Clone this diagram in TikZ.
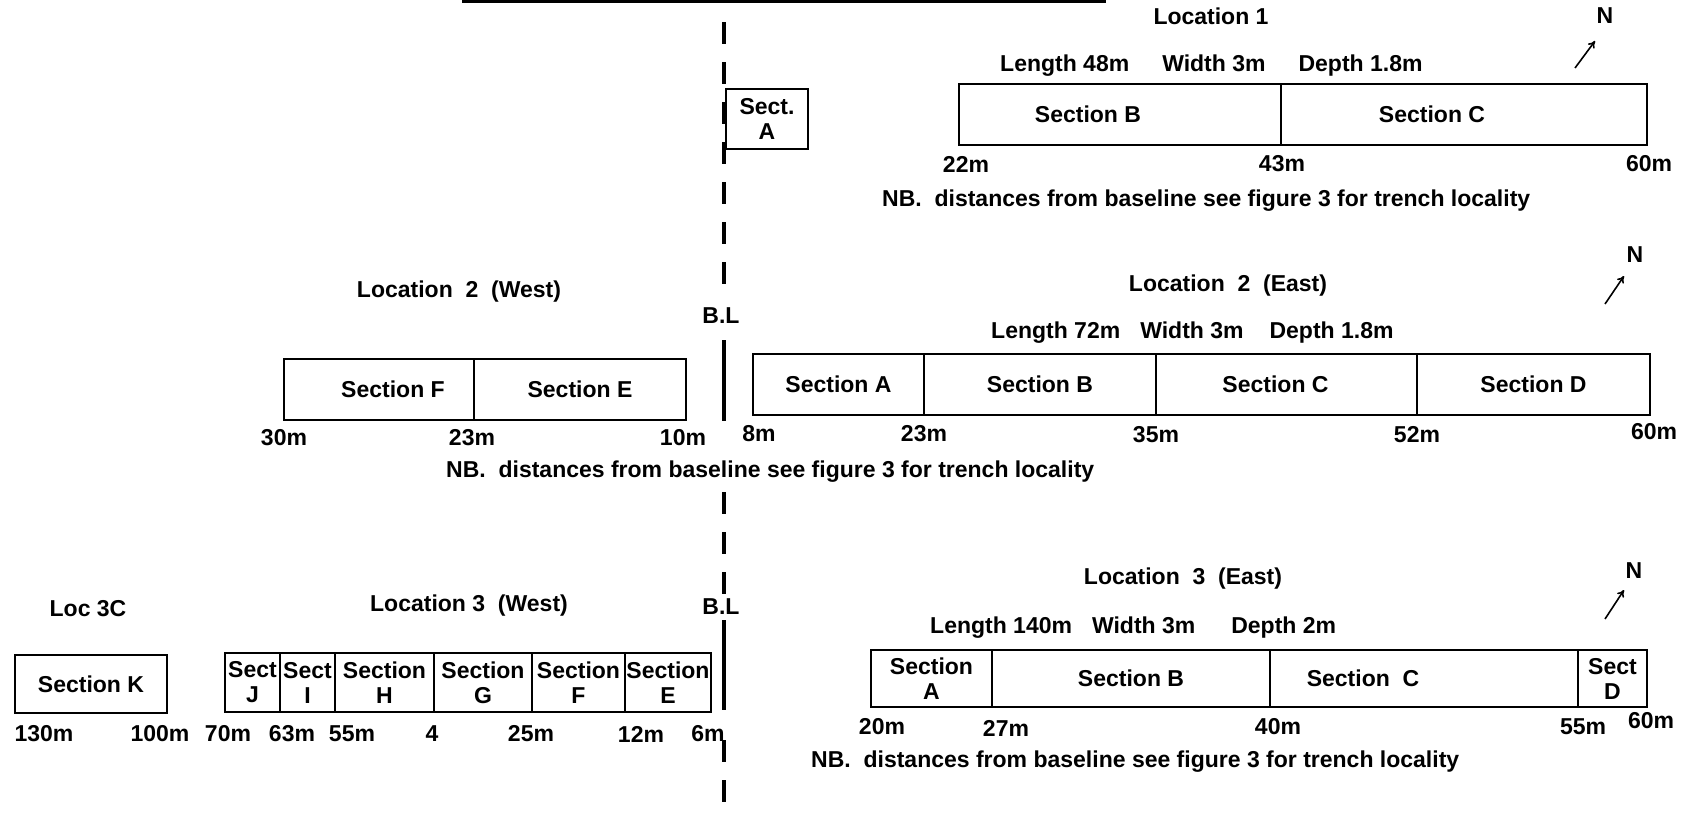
\documentclass[tikz,border=0pt]{standalone}
\usepackage{fontspec}
\setmainfont{Liberation Sans}
\usetikzlibrary{arrows.meta}
\begin{document}
\begin{tikzpicture}[x=1pt,y=-1pt,
  font=\fontsize{23}{25}\selectfont\bfseries,
  cell/.style={draw, line width=2pt, inner sep=0pt, anchor=north west, align=center},
  lbl/.style={inner sep=0pt},
  nbtxt/.style={inner sep=0pt, anchor=west},
  baseln/.style={line width=4pt},
  dashedbl/.style={baseln, dash pattern=on 22pt off 18pt},
  northarrow/.style={line width=1.6pt, -{To[length=7pt,width=8pt]}}]
\useasboundingbox (0,0) rectangle (1692,814);

% top cut line
\coordinate (tl1) at (462,1);
\coordinate (tl2) at (1106,1);
\draw[line width=3pt] (tl1) -- (tl2);

% ---------------- baseline ----------------
\coordinate (b0) at (724,22);
\coordinate (b1) at (724,292);
\node[lbl] (blu) at (721,316) {B.L};
\coordinate (b2) at (724,340);
\coordinate (b3) at (724,421);
\coordinate (b4) at (724,492);
\coordinate (b5) at (724,594);
\node[lbl] (bll) at (721,607) {B.L};
\coordinate (b6) at (724,620);
\coordinate (b7) at (724,710);
\coordinate (b8) at (724,740);
\coordinate (b9) at (724,803);
\draw[dashedbl] (b0) -- (b1);
\draw[baseln] (b2) -- (b3);
\draw[dashedbl] (b4) -- (b5);
\draw[baseln] (b6) -- (b7);
\draw[dashedbl] (b8) -- (b9);

% ---------------- Location 1 ----------------
\node[lbl] (loc1) at (1211,16) {Location 1};
\node[lbl] (n1) at (1605,16) {N};
\coordinate (a1s) at (1575,68);
\coordinate (a1e) at (1595,41);
\draw[northarrow] (a1s) -- (a1e);
\node[nbtxt] (dim1) at (1000,66) {Length 48m\hspace{33pt}Width 3m\hspace{33pt}Depth 1.8m};
\node[cell, minimum width=322pt, minimum height=61pt] (l1b) at (958,83) {Section B\hspace*{64pt}};
\node[cell, minimum width=366pt, minimum height=61pt] (l1c) at (1280,83) {Section C\hspace*{64pt}};
\node[lbl] (l1d22) at (966,164) {22m};
\node[lbl] (l1d43) at (1282,164) {43m};
\node[lbl] (l1d60) at (1649,164) {60m};
\node[nbtxt] (nb1) at (882,201) {NB.\ \ distances from baseline see figure 3 for trench locality};
\node[cell, minimum width=82pt, minimum height=60pt] (l1a) at (725,88) {Sect.\\A};

% ---------------- Location 2 West ----------------
\node[lbl] (loc2w) at (459,292) {Location\ \ 2\ \ (West)};
\node[cell, minimum width=190pt, minimum height=61pt] (l2f) at (283,358) {\hspace*{28pt}Section F};
\node[cell, minimum width=212pt, minimum height=61pt] (l2e) at (473,358) {Section E};
\node[lbl] (l2d30) at (284,438) {30m};
\node[lbl] (l2d23) at (472,438) {23m};
\node[lbl] (l2d10) at (683,438) {10m};
\node[nbtxt] (nb2) at (446,472) {NB.\ \ distances from baseline see figure 3 for trench locality};

% ---------------- Location 2 East ----------------
\node[lbl] (loc2e) at (1228,286) {Location\ \ 2\ \ (East)};
\node[lbl] (n2) at (1635,255) {N};
\coordinate (a2s) at (1605,304);
\coordinate (a2e) at (1624,276);
\draw[northarrow] (a2s) -- (a2e);
\node[nbtxt] (dim2) at (991,333) {Length 72m\hspace{20pt}Width 3m\hspace{26pt}Depth 1.8m};
\node[cell, minimum width=171pt, minimum height=61pt] (l2ea) at (752,353) {Section A};
\node[cell, minimum width=232pt, minimum height=61pt] (l2eb) at (923,353) {Section B};
\node[cell, minimum width=261pt, minimum height=61pt] (l2ec) at (1155,353) {Section C\hspace*{22pt}};
\node[cell, minimum width=233pt, minimum height=61pt] (l2ed) at (1416,353) {Section D};
\node[lbl] (l2d8) at (759,434) {8m};
\node[lbl] (l2ed23) at (924,434) {23m};
\node[lbl] (l2d35) at (1156,435) {35m};
\node[lbl] (l2d52) at (1417,435) {52m};
\node[lbl] (l2d60) at (1654,432) {60m};

% ---------------- Location 3 West / 3C ----------------
\node[lbl] (loc3c) at (88,609) {Loc 3C};
\node[cell, minimum width=152pt, minimum height=58pt] (l3k) at (14,654) {Section K};
\node[lbl] (loc3w) at (469,606) {Location 3\ \ (West)};
\node[cell, minimum width=55pt, minimum height=59pt] (l3j) at (224,652) {Sect\\J};
\node[cell, minimum width=55pt, minimum height=59pt] (l3i) at (279,652) {Sect\\I};
\node[cell, minimum width=99pt, minimum height=59pt] (l3h) at (334,652) {Section\\H};
\node[cell, minimum width=98pt, minimum height=59pt] (l3g) at (433,652) {Section\\G};
\node[cell, minimum width=93pt, minimum height=59pt] (l3f) at (531,652) {Section\\F};
\node[cell, minimum width=86pt, minimum height=59pt] (l3e) at (624,652) {Section\\E};
\node[lbl] (l3d130) at (44,734) {130m};
\node[lbl] (l3d100) at (160,734) {100m};
\node[lbl] (l3d70) at (228,734) {70m};
\node[lbl] (l3d63) at (292,734) {63m};
\node[lbl] (l3d55) at (352,734) {55m};
\node[lbl] (l3d4) at (432,734) {4};
\node[lbl] (l3d25) at (531,734) {25m};
\node[lbl] (l3d12) at (641,734) {12m};
\node[lbl] (l3d6) at (708,734) {6m};

% ---------------- Location 3 East ----------------
\node[lbl] (loc3e) at (1183,579) {Location\ \ 3\ \ (East)};
\node[lbl] (n3) at (1634,571) {N};
\coordinate (a3s) at (1605,619);
\coordinate (a3e) at (1624,590);
\draw[northarrow] (a3s) -- (a3e);
\node[nbtxt] (dim3) at (930,628) {Length 140m\hspace{20pt}Width 3m\hspace{36pt}Depth 2m};
\node[cell, minimum width=121pt, minimum height=57pt] (l3ea) at (870,649) {Section\\A};
\node[cell, minimum width=278pt, minimum height=57pt] (l3eb) at (991,649) {Section B};
\node[cell, minimum width=308pt, minimum height=57pt] (l3ec) at (1269,649) {Section\ \ C\hspace*{122pt}};
\node[cell, minimum width=69pt, minimum height=57pt] (l3ed) at (1577,649) {Sect\\D};
\node[lbl] (l3ed20) at (882,727) {20m};
\node[lbl] (l3ed27) at (1006,728) {27m};
\node[lbl] (l3ed40) at (1278,727) {40m};
\node[lbl] (l3ed55) at (1583,727) {55m};
\node[lbl] (l3ed60) at (1651,721) {60m};
\node[nbtxt] (nb3) at (811,762) {NB.\ \ distances from baseline see figure 3 for trench locality};
\end{tikzpicture}
\end{document}
